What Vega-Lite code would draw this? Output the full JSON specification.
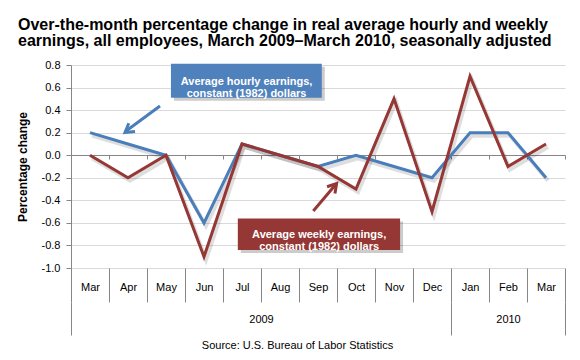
{
  "$schema": "https://vega.github.io/schema/vega-lite/v6.json",
  "width": 494,
  "height": 203,
  "autosize": "none",
  "padding": {"left": 71, "top": 65, "right": 15, "bottom": 92},
  "background": "white",
  "title": {
    "text": ["Over-the-month percentage change in real average hourly and weekly", "earnings, all employees, March 2009–March 2010, seasonally adjusted"],
    "anchor": "start",
    "frame": "group",
    "dx": -53,
    "offset": 10,
    "font": "Liberation Sans",
    "fontSize": 16,
    "fontWeight": "bold",
    "color": "#000000",
    "lineHeight": 16
  },
  "config": {
    "font": "Liberation Sans",
    "view": {"stroke": null},
    "axis": {"labelFont": "Liberation Sans", "titleFont": "Liberation Sans", "labelColor": "#000000", "titleColor": "#000000"},
    "axisY": {"grid": true, "gridColor": "#D9D9D9", "gridWidth": 1, "labelOverlap": false, "labelFontSize": 11,
      "domain": true, "domainColor": "#868686", "ticks": true, "tickSize": 5, "tickColor": "#868686", "labelPadding": 6,
      "titleFontSize": 12, "titleFontWeight": "bold", "titlePadding": 12}
  },
  "datasets": {
    "earnings": [
      {"month": "Mar 2009", "series": "hourly", "v": 0.2},
      {"month": "Apr 2009", "series": "hourly", "v": 0.1},
      {"month": "May 2009", "series": "hourly", "v": 0.0},
      {"month": "Jun 2009", "series": "hourly", "v": -0.6},
      {"month": "Jul 2009", "series": "hourly", "v": 0.1},
      {"month": "Aug 2009", "series": "hourly", "v": 0.0},
      {"month": "Sep 2009", "series": "hourly", "v": -0.1},
      {"month": "Oct 2009", "series": "hourly", "v": 0.0},
      {"month": "Nov 2009", "series": "hourly", "v": -0.1},
      {"month": "Dec 2009", "series": "hourly", "v": -0.2},
      {"month": "Jan 2010", "series": "hourly", "v": 0.2},
      {"month": "Feb 2010", "series": "hourly", "v": 0.2},
      {"month": "Mar 2010", "series": "hourly", "v": -0.2},
      {"month": "Mar 2009", "series": "weekly", "v": 0.0},
      {"month": "Apr 2009", "series": "weekly", "v": -0.2},
      {"month": "May 2009", "series": "weekly", "v": 0.0},
      {"month": "Jun 2009", "series": "weekly", "v": -0.9},
      {"month": "Jul 2009", "series": "weekly", "v": 0.1},
      {"month": "Aug 2009", "series": "weekly", "v": 0.0},
      {"month": "Sep 2009", "series": "weekly", "v": -0.1},
      {"month": "Oct 2009", "series": "weekly", "v": -0.3},
      {"month": "Nov 2009", "series": "weekly", "v": 0.5},
      {"month": "Dec 2009", "series": "weekly", "v": -0.5},
      {"month": "Jan 2010", "series": "weekly", "v": 0.7},
      {"month": "Feb 2010", "series": "weekly", "v": -0.1},
      {"month": "Mar 2010", "series": "weekly", "v": 0.1}
    ]
  },
  "layer": [
    {
      "data": {"name": "earnings"},
      "layer": [
        {
          "mark": {"type": "line", "opacity": 0},
          "encoding": {
            "x": {"field": "month", "type": "ordinal",
              "sort": ["Mar 2009","Apr 2009","May 2009","Jun 2009","Jul 2009","Aug 2009","Sep 2009","Oct 2009","Nov 2009","Dec 2009","Jan 2010","Feb 2010","Mar 2010"],
              "scale": {"type": "band", "paddingInner": 0, "paddingOuter": 0},
              "axis": {"orient": "bottom", "offset": -113, "labels": false, "title": null, "grid": false,
                "domain": true, "domainColor": "#868686", "domainWidth": 1,
                "ticks": true, "tickBand": "extent", "tickSize": 4, "tickColor": "#868686"}},
            "y": {"field": "v", "type": "quantitative", "scale": {"domain": [-1, 0.8], "nice": false, "zero": false},
              "axis": {"title": "Percentage change", "values": [-1, -0.8, -0.6, -0.4, -0.2, 0, 0.2, 0.4, 0.6, 0.8], "labelExpr": "replace(format(datum.value, '.1f'), '\u2212', '-')"}},
            "detail": {"field": "series"}
          }
        },
        {
          "mark": {"type": "line", "opacity": 0},
          "encoding": {
            "x": {"field": "month", "type": "ordinal",
              "sort": ["Mar 2009","Apr 2009","May 2009","Jun 2009","Jul 2009","Aug 2009","Sep 2009","Oct 2009","Nov 2009","Dec 2009","Jan 2010","Feb 2010","Mar 2010"],
              "axis": {"orient": "bottom", "offset": 34, "domain": false, "grid": false,
                "ticks": true, "tickBand": "extent", "tickSize": 33, "tickColor": "#868686",
                "tickOpacity": {"condition": {"test": "datum.value === 'Dec 2009' || datum.value === 'Mar 2010' || !datum.value", "value": 1}, "value": 0},
                "labelExpr": "datum.value === 'Jul 2009' ? '2009' : datum.value === 'Feb 2010' ? '2010' : ''",
                "labelOffset": {"condition": {"test": "datum.value === 'Jul 2009'", "value": 19}, "value": 0},
                "labelPadding": -22, "labelFontSize": 11, "labelOverlap": false, "labelAngle": 0,
                "title": "Source:  U.S. Bureau of Labor Statistics", "titleFontSize": 11, "titleFontWeight": "normal",
                "titlePadding": 4, "titleX": 226}},
            "y": {"field": "v", "type": "quantitative", "scale": {"domain": [-1, 0.8], "nice": false, "zero": false},
              "axis": {"title": "Percentage change", "values": [-1, -0.8, -0.6, -0.4, -0.2, 0, 0.2, 0.4, 0.6, 0.8], "labelExpr": "replace(format(datum.value, '.1f'), '\u2212', '-')"}},
            "detail": {"field": "series"}
          }
        },
        {
          "mark": {"type": "line", "strokeWidth": 4, "color": "#000000", "opacity": 0.13, "xOffset": 2, "yOffset": 3},
          "encoding": {
            "x": {"field": "month", "type": "ordinal",
              "sort": ["Mar 2009","Apr 2009","May 2009","Jun 2009","Jul 2009","Aug 2009","Sep 2009","Oct 2009","Nov 2009","Dec 2009","Jan 2010","Feb 2010","Mar 2010"],
              "axis": null},
            "y": {"field": "v", "type": "quantitative", "scale": {"domain": [-1, 0.8], "nice": false, "zero": false},
              "axis": {"title": "Percentage change", "values": [-1, -0.8, -0.6, -0.4, -0.2, 0, 0.2, 0.4, 0.6, 0.8], "labelExpr": "replace(format(datum.value, '.1f'), '\u2212', '-')"}},
            "detail": {"field": "series"}
          }
        },
        {
          "mark": {"type": "line", "strokeWidth": 3},
          "encoding": {
            "x": {"field": "month", "type": "ordinal",
              "sort": ["Mar 2009","Apr 2009","May 2009","Jun 2009","Jul 2009","Aug 2009","Sep 2009","Oct 2009","Nov 2009","Dec 2009","Jan 2010","Feb 2010","Mar 2010"],
              "axis": {"orient": "bottom", "domain": false, "grid": false, "title": null,
                "ticks": true, "tickBand": "extent", "tickSize": 34, "tickColor": "#868686",
                "labelExpr": "datum.value ? split(datum.value, ' ')[0] : ''",
                "labelPadding": -21, "labelFontSize": 11, "labelOverlap": false, "labelAngle": 0}},
            "y": {"field": "v", "type": "quantitative", "scale": {"domain": [-1, 0.8], "nice": false, "zero": false},
              "axis": {"title": "Percentage change", "values": [-1, -0.8, -0.6, -0.4, -0.2, 0, 0.2, 0.4, 0.6, 0.8], "labelExpr": "replace(format(datum.value, '.1f'), '\u2212', '-')"}},
            "color": {"field": "series", "type": "nominal", "scale": {"domain": ["hourly", "weekly"], "range": ["#4A7EBB", "#953735"]}, "legend": null}
          }
        }
      ],
      "resolve": {"axis": {"x": "independent"}}
    },
    {
      "data": {"values": [{}]},
      "layer": [
        {
          "mark": {"type": "rect", "color": "#000000", "opacity": 0.2, "xOffset": 3, "x2Offset": 3, "yOffset": 3, "y2Offset": 3},
          "encoding": {
            "x": {"datum": 2.63, "type": "quantitative", "scale": {"domain": [0, 13], "nice": false, "zero": false}, "axis": null},
            "x2": {"datum": 6.6},
            "y": {"datum": 0.81, "type": "quantitative", "scale": {"domain": [-1, 0.8], "nice": false, "zero": false},
              "axis": {"title": "Percentage change", "values": [-1, -0.8, -0.6, -0.4, -0.2, 0, 0.2, 0.4, 0.6, 0.8], "labelExpr": "replace(format(datum.value, '.1f'), '\u2212', '-')"}},
            "y2": {"datum": 0.51}
          }
        },
        {
          "mark": {"type": "rect", "color": "#4F81BD"},
          "encoding": {
            "x": {"datum": 2.63, "type": "quantitative", "scale": {"domain": [0, 13], "nice": false, "zero": false}, "axis": null},
            "x2": {"datum": 6.6},
            "y": {"datum": 0.81, "type": "quantitative", "scale": {"domain": [-1, 0.8], "nice": false, "zero": false},
              "axis": {"title": "Percentage change", "values": [-1, -0.8, -0.6, -0.4, -0.2, 0, 0.2, 0.4, 0.6, 0.8], "labelExpr": "replace(format(datum.value, '.1f'), '\u2212', '-')"}},
            "y2": {"datum": 0.51}
          }
        },
        {
          "mark": {"type": "text", "color": "#FFFFFF", "font": "Liberation Sans", "fontSize": 11, "fontWeight": "bold", "lineHeight": 12, "align": "center", "baseline": "middle"},
          "encoding": {
            "x": {"datum": 4.62, "type": "quantitative", "scale": {"domain": [0, 13], "nice": false, "zero": false}, "axis": null},
            "y": {"datum": 0.65, "type": "quantitative", "scale": {"domain": [-1, 0.8], "nice": false, "zero": false},
              "axis": {"title": "Percentage change", "values": [-1, -0.8, -0.6, -0.4, -0.2, 0, 0.2, 0.4, 0.6, 0.8], "labelExpr": "replace(format(datum.value, '.1f'), '\u2212', '-')"}},
            "text": {"value": ["Average hourly earnings,", "constant (1982) dollars"]}
          }
        },
        {
          "mark": {"type": "rect", "color": "#000000", "opacity": 0.2, "xOffset": 3, "x2Offset": 3, "yOffset": 3, "y2Offset": 3},
          "encoding": {
            "x": {"datum": 4.39, "type": "quantitative", "scale": {"domain": [0, 13], "nice": false, "zero": false}, "axis": null},
            "x2": {"datum": 8.66},
            "y": {"datum": -0.56, "type": "quantitative", "scale": {"domain": [-1, 0.8], "nice": false, "zero": false},
              "axis": {"title": "Percentage change", "values": [-1, -0.8, -0.6, -0.4, -0.2, 0, 0.2, 0.4, 0.6, 0.8], "labelExpr": "replace(format(datum.value, '.1f'), '\u2212', '-')"}},
            "y2": {"datum": -0.84}
          }
        },
        {
          "mark": {"type": "rect", "color": "#953735"},
          "encoding": {
            "x": {"datum": 4.39, "type": "quantitative", "scale": {"domain": [0, 13], "nice": false, "zero": false}, "axis": null},
            "x2": {"datum": 8.66},
            "y": {"datum": -0.56, "type": "quantitative", "scale": {"domain": [-1, 0.8], "nice": false, "zero": false},
              "axis": {"title": "Percentage change", "values": [-1, -0.8, -0.6, -0.4, -0.2, 0, 0.2, 0.4, 0.6, 0.8], "labelExpr": "replace(format(datum.value, '.1f'), '\u2212', '-')"}},
            "y2": {"datum": -0.84}
          }
        },
        {
          "mark": {"type": "text", "color": "#FFFFFF", "font": "Liberation Sans", "fontSize": 11, "fontWeight": "bold", "lineHeight": 12, "align": "center", "baseline": "middle"},
          "encoding": {
            "x": {"datum": 6.53, "type": "quantitative", "scale": {"domain": [0, 13], "nice": false, "zero": false}, "axis": null},
            "y": {"datum": -0.705, "type": "quantitative", "scale": {"domain": [-1, 0.8], "nice": false, "zero": false},
              "axis": {"title": "Percentage change", "values": [-1, -0.8, -0.6, -0.4, -0.2, 0, 0.2, 0.4, 0.6, 0.8], "labelExpr": "replace(format(datum.value, '.1f'), '\u2212', '-')"}},
            "text": {"value": ["Average weekly earnings,", "constant (1982) dollars"]}
          }
        },
        {
          "mark": {"type": "rule", "color": "#4A7EBB", "strokeWidth": 3},
          "encoding": {
            "x": {"datum": 2.342, "type": "quantitative", "scale": {"domain": [0, 13], "nice": false, "zero": false}, "axis": null},
            "x2": {"datum": 1.44},
            "y": {"datum": 0.437, "type": "quantitative", "scale": {"domain": [-1, 0.8], "nice": false, "zero": false},
              "axis": {"title": "Percentage change", "values": [-1, -0.8, -0.6, -0.4, -0.2, 0, 0.2, 0.4, 0.6, 0.8], "labelExpr": "replace(format(datum.value, '.1f'), '\u2212', '-')"}},
            "y2": {"datum": 0.213}
          }
        },
        {
          "mark": {"type": "point", "shape": "M-0.6,1L0,0L0.6,1", "filled": false, "color": "#4A7EBB", "strokeWidth": 3, "size": 300, "angle": 233, "opacity": 1},
          "encoding": {
            "x": {"datum": 1.421, "type": "quantitative", "scale": {"domain": [0, 13], "nice": false, "zero": false}, "axis": null},
            "y": {"datum": 0.201, "type": "quantitative", "scale": {"domain": [-1, 0.8], "nice": false, "zero": false},
              "axis": {"title": "Percentage change", "values": [-1, -0.8, -0.6, -0.4, -0.2, 0, 0.2, 0.4, 0.6, 0.8], "labelExpr": "replace(format(datum.value, '.1f'), '\u2212', '-')"}}
          }
        },
        {
          "mark": {"type": "rule", "color": "#953735", "strokeWidth": 3},
          "encoding": {
            "x": {"datum": 6.376, "type": "quantitative", "scale": {"domain": [0, 13], "nice": false, "zero": false}, "axis": null},
            "x2": {"datum": 6.96},
            "y": {"datum": -0.494, "type": "quantitative", "scale": {"domain": [-1, 0.8], "nice": false, "zero": false},
              "axis": {"title": "Percentage change", "values": [-1, -0.8, -0.6, -0.4, -0.2, 0, 0.2, 0.4, 0.6, 0.8], "labelExpr": "replace(format(datum.value, '.1f'), '\u2212', '-')"}},
            "y2": {"datum": -0.262}
          }
        },
        {
          "mark": {"type": "point", "shape": "M-0.6,1L0,0L0.6,1", "filled": false, "color": "#953735", "strokeWidth": 3, "size": 300, "angle": 40.5, "opacity": 1},
          "encoding": {
            "x": {"datum": 6.99, "type": "quantitative", "scale": {"domain": [0, 13], "nice": false, "zero": false}, "axis": null},
            "y": {"datum": -0.251, "type": "quantitative", "scale": {"domain": [-1, 0.8], "nice": false, "zero": false},
              "axis": {"title": "Percentage change", "values": [-1, -0.8, -0.6, -0.4, -0.2, 0, 0.2, 0.4, 0.6, 0.8], "labelExpr": "replace(format(datum.value, '.1f'), '\u2212', '-')"}}
          }
        }
      ]
    }
  ],
  "resolve": {"scale": {"x": "independent"}, "axis": {"x": "independent"}}
}
